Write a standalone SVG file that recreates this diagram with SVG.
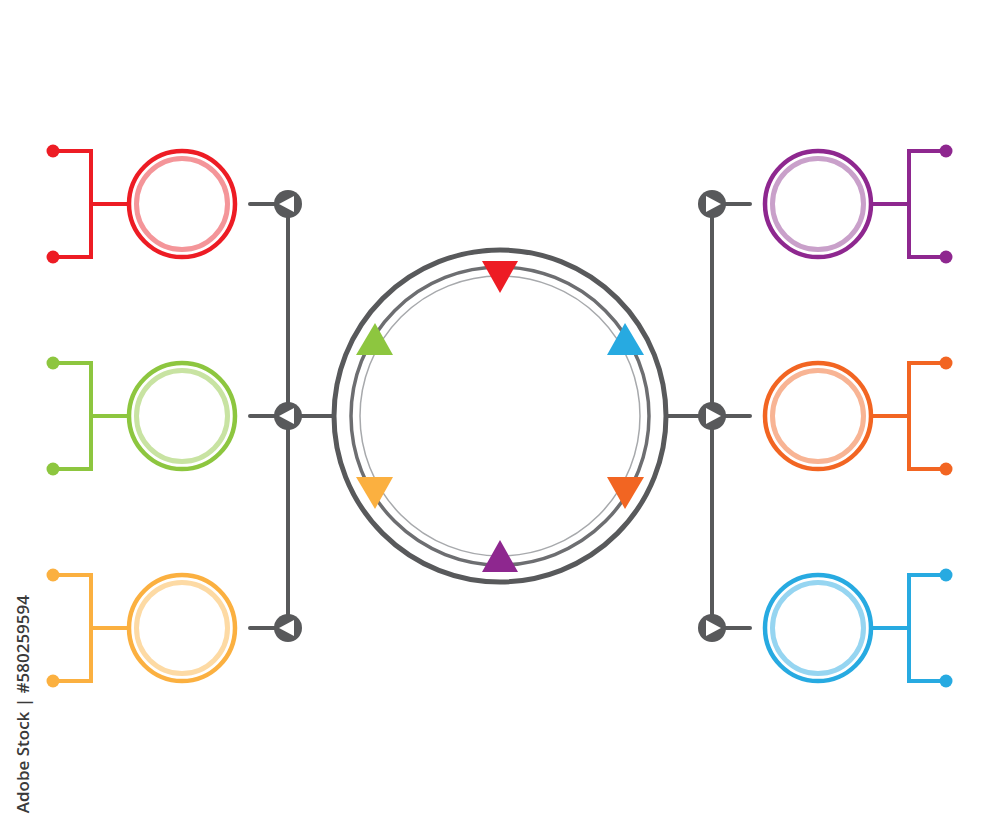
<svg xmlns="http://www.w3.org/2000/svg" width="1000" height="833" viewBox="0 0 1000 833">
<style>
.gl{stroke:#58595B;stroke-width:4;fill:none;stroke-linecap:round}
.knob{fill:#58595B}
.tri{fill:#fff}
.br{stroke-width:4;fill:none}
.out{stroke-width:4.5;fill:#fff}
.in{stroke-width:5;fill:none}
.wm{font-family:"Open Sans","Liberation Sans",sans-serif;font-weight:600;font-size:17px;fill:#3a3a3a}
</style>
<rect width="1000" height="833" fill="#fff"/>
<g id="connectors">
  <line class="gl" x1="288" y1="204" x2="288" y2="628"/>
  <line class="gl" x1="250" y1="204" x2="288" y2="204"/>
  <line class="gl" x1="250" y1="416" x2="334" y2="416"/>
  <line class="gl" x1="250" y1="628" x2="288" y2="628"/>
  <line class="gl" x1="712" y1="204" x2="712" y2="628"/>
  <line class="gl" x1="712" y1="204" x2="750" y2="204"/>
  <line class="gl" x1="666" y1="416" x2="750" y2="416"/>
  <line class="gl" x1="712" y1="628" x2="750" y2="628"/>
</g>
<g id="knobs-left">
  <circle class="knob" cx="288" cy="204" r="14"/><polygon class="tri" points="279,204 294,196 294,212"/>
  <circle class="knob" cx="288" cy="416" r="14"/><polygon class="tri" points="279,416 294,408 294,424"/>
  <circle class="knob" cx="288" cy="628" r="14"/><polygon class="tri" points="279,628 294,620 294,636"/>
</g>
<g id="knobs-right">
  <circle class="knob" cx="712" cy="204" r="14"/><polygon class="tri" points="721,204 706,196 706,212"/>
  <circle class="knob" cx="712" cy="416" r="14"/><polygon class="tri" points="721,416 706,408 706,424"/>
  <circle class="knob" cx="712" cy="628" r="14"/><polygon class="tri" points="721,628 706,620 706,636"/>
</g>
<g id="center">
  <circle cx="500" cy="416" r="166" fill="#fff" stroke="#58595B" stroke-width="5"/>
  <circle cx="500" cy="416" r="149" fill="none" stroke="#6D6E71" stroke-width="3.5"/>
  <circle cx="500" cy="416" r="140" fill="none" stroke="#A7A9AC" stroke-width="1.5"/>
  <polygon fill="#ED1C24" points="482,261 518,261 500,293"/>
  <polygon fill="#8E278F" points="482,572 518,572 500,540"/>
  <polygon fill="#8DC63F" points="356,355 393,355 375,323"/>
  <polygon fill="#27AAE1" points="607,355 644,355 625,323"/>
  <polygon fill="#FBB040" points="356,477 393,477 375,509"/>
  <polygon fill="#F26522" points="607,477 644,477 625,509"/>
</g>
<g id="node-red">
  <path class="br" stroke="#ED1C24" d="M53,151 H91 V257 H53 M91,204 H129"/>
  <circle cx="53" cy="151" r="6.5" fill="#ED1C24"/><circle cx="53" cy="257" r="6.5" fill="#ED1C24"/>
  <circle class="out" cx="182" cy="204" r="53" stroke="#ED1C24"/>
  <circle class="in" cx="182" cy="204" r="45.5" stroke="#F49599"/>
</g>
<g id="node-green">
  <path class="br" stroke="#8DC63F" d="M53,363 H91 V469 H53 M91,416 H129"/>
  <circle cx="53" cy="363" r="6.5" fill="#8DC63F"/><circle cx="53" cy="469" r="6.5" fill="#8DC63F"/>
  <circle class="out" cx="182" cy="416" r="53" stroke="#8DC63F"/>
  <circle class="in" cx="182" cy="416" r="45.5" stroke="#C8E3A2"/>
</g>
<g id="node-yellow">
  <path class="br" stroke="#FBB040" d="M53,575 H91 V681 H53 M91,628 H129"/>
  <circle cx="53" cy="575" r="6.5" fill="#FBB040"/><circle cx="53" cy="681" r="6.5" fill="#FBB040"/>
  <circle class="out" cx="182" cy="628" r="53" stroke="#FBB040"/>
  <circle class="in" cx="182" cy="628" r="45.5" stroke="#FDDAA4"/>
</g>
<g id="node-purple">
  <path class="br" stroke="#8E278F" d="M946,151 H909 V257 H946 M909,204 H871"/>
  <circle cx="946" cy="151" r="6.5" fill="#8E278F"/><circle cx="946" cy="257" r="6.5" fill="#8E278F"/>
  <circle class="out" cx="818" cy="204" r="53" stroke="#8E278F"/>
  <circle class="in" cx="818" cy="204" r="45.5" stroke="#C9A0CA"/>
</g>
<g id="node-orange">
  <path class="br" stroke="#F26522" d="M946,363 H909 V469 H946 M909,416 H871"/>
  <circle cx="946" cy="363" r="6.5" fill="#F26522"/><circle cx="946" cy="469" r="6.5" fill="#F26522"/>
  <circle class="out" cx="818" cy="416" r="53" stroke="#F26522"/>
  <circle class="in" cx="818" cy="416" r="45.5" stroke="#F8B494"/>
</g>
<g id="node-blue">
  <path class="br" stroke="#27AAE1" d="M946,575 H909 V681 H946 M909,628 H871"/>
  <circle cx="946" cy="575" r="6.5" fill="#27AAE1"/><circle cx="946" cy="681" r="6.5" fill="#27AAE1"/>
  <circle class="out" cx="818" cy="628" r="53" stroke="#27AAE1"/>
  <circle class="in" cx="818" cy="628" r="45.5" stroke="#96D5F1"/>
</g>
<text class="wm" transform="translate(29,595) rotate(-90)" text-anchor="end">Adobe Stock | #580259594</text>
</svg>
